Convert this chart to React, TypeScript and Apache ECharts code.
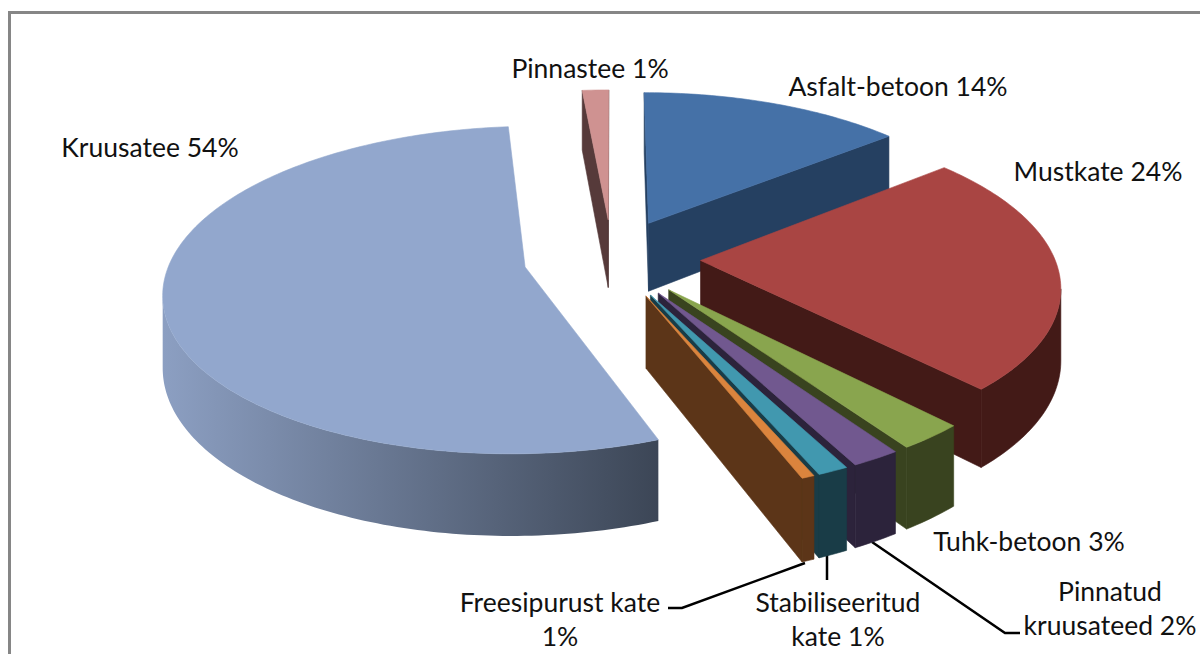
import React, { useEffect, useRef } from "react";
import * as echarts from "echarts";

const categories = ["Asfalt-betoon", "Mustkate", "Tuhk-betoon", "Pinnatud kruusateed", "Stabiliseeritud kate", "Freesipurust kate", "Kruusatee", "Pinnastee"];
const values = [14.0, 24.0, 2.6, 1.9, 1.2, 0.5, 54.4, 1.4];
const labelTexts = ["Pinnastee 1%", "Asfalt-betoon 14%", "Mustkate 24%", "Kruusatee 54%", "Tuhk-betoon 3%", "Freesipurust kate\n1%", "Stabiliseeritud\nkate 1%", "Pinnatud\nkruusateed 2%"];

const topColors = ["#4571A7", "#A94543", "#89A54E", "#71588F", "#4198AF", "#DB843D", "#92A7CD", "#CF9291"];
const sideColors = ["#254061", "#431A17", "#39431F", "#2C233B", "#193C47", "#5C3518", "#647A9E", "#563A3A"];

const labelPos = [
  [590, 68], [898, 86], [1098, 171], [150, 147], [1029, 541], [560, 619], [838, 619], [1110, 608],
];
const leaders = [
  [[668, 608], [682, 608], [805, 563]],
  [[827, 555], [827, 580]],
  [[872, 542], [1005, 633], [1020, 633]],
];

// projection of the tilted disc
const CX = 612, CY = 258, A = 354, B = 158, K = 0.14, DEPTH = 70, EXPLODE = 0.25;
const total = values.reduce((a, b) => a + b, 0);

function proj(x: number, y: number, z: number): number[] {
  const s = 1 / (1 - K * y);
  return [CX + A * x * s, CY + B * y * s + z * DEPTH * s];
}

function renderSlice(params: any, api: any) {
  const i = params.dataIndex;
  const value = api.value(0);
  let before = 0;
  for (let j = 0; j < i; j++) before += values[j];
  const a0 = (before / total) * Math.PI * 2;
  const a1 = ((before + value) / total) * Math.PI * 2;
  const mid = (a0 + a1) / 2;
  const ax = EXPLODE * Math.sin(mid);
  const ay = -EXPLODE * Math.cos(mid);
  const steps = Math.max(4, Math.ceil(((a1 - a0) * 180) / Math.PI));
  const arc: number[][] = [];
  for (let t = 0; t <= steps; t++) {
    const f = a0 + ((a1 - a0) * t) / steps;
    arc.push([ax + Math.sin(f), ay - Math.cos(f)]);
  }
  const top = (p: number[]) => proj(p[0], p[1], 0);
  const bot = (p: number[]) => proj(p[0], p[1], 1);
  const apex = [ax, ay];
  const base = ay * 1000;
  const children: any[] = [];
  const poly = (points: number[][], fill: any, z: number, stroke?: string) => ({
    type: "polygon",
    z2: base + z,
    shape: { points },
    style: { fill, stroke: stroke || undefined, lineWidth: stroke ? 0.6 : 0 },
  });

  const first = arc[0];
  const last = arc[arc.length - 1];
  if (top(first)[0] < top(apex)[0]) {
    children.push(poly([top(apex), top(first), bot(first), bot(apex)], sideColors[i], 1, sideColors[i]));
  }
  if (top(apex)[0] < top(last)[0]) {
    children.push(poly([top(last), top(apex), bot(apex), bot(last)], sideColors[i], 1, sideColors[i]));
  }
  const run: number[][] = [];
  for (let t = 0; t < arc.length; t++) {
    const prev = t > 0 && top(arc[t])[0] < top(arc[t - 1])[0];
    const next = t < arc.length - 1 && top(arc[t + 1])[0] < top(arc[t])[0];
    if (prev || next) run.push(arc[t]);
  }
  if (run.length > 1) {
    const isLarge = value > 50;
    const fill = isLarge
      ? new echarts.graphic.LinearGradient(0, 0, 1, 0, [
          { offset: 0, color: "#8C9FC2" },
          { offset: 1, color: "#3C4656" },
        ])
      : sideColors[i];
    children.push(poly([...run.map(top), ...run.slice().reverse().map(bot)], fill, 2, isLarge ? undefined : sideColors[i]));
  }
  children.push(poly([top(apex), ...arc.map(top)], topColors[i], 3, topColors[i]));
  return { type: "group", children };
}

export default function App() {
  const ref = useRef<HTMLDivElement>(null);
  useEffect(() => {
    const chart = echarts.init(ref.current!, undefined, { renderer: "svg" });
    const font = { fontFamily: "Lato", fontSize: 26.5, fill: "#111" };
    chart.setOption({
      animation: false,
      backgroundColor: "#fff",
      series: [
        {
          type: "custom",
          coordinateSystem: "none",
          renderItem: renderSlice,
          data: categories.map((name, i) => ({ name, value: [values[i]] })),
        },
      ],
      graphic: [
        {
          type: "polyline",
          shape: { points: [[9.5, 654], [9.5, 12.5], [1200, 12.5]] },
          style: { stroke: "#868686", lineWidth: 3, fill: "none" },
        },
        ...leaders.map((points) => ({
          type: "polyline",
          shape: { points },
          style: { stroke: "#000", lineWidth: 2.5, fill: "none" },
        })),
        ...labelTexts.map((text, i) => ({
          type: "text",
          x: labelPos[i][0],
          y: labelPos[i][1],
          style: { ...font, text, align: "center", verticalAlign: "middle", lineHeight: 34 },
        })),
      ],
    });
    return () => chart.dispose();
  }, []);
  return <div ref={ref} style={{ position: "fixed", left: 0, top: 0, width: 1200, height: 654 }} />;
}
